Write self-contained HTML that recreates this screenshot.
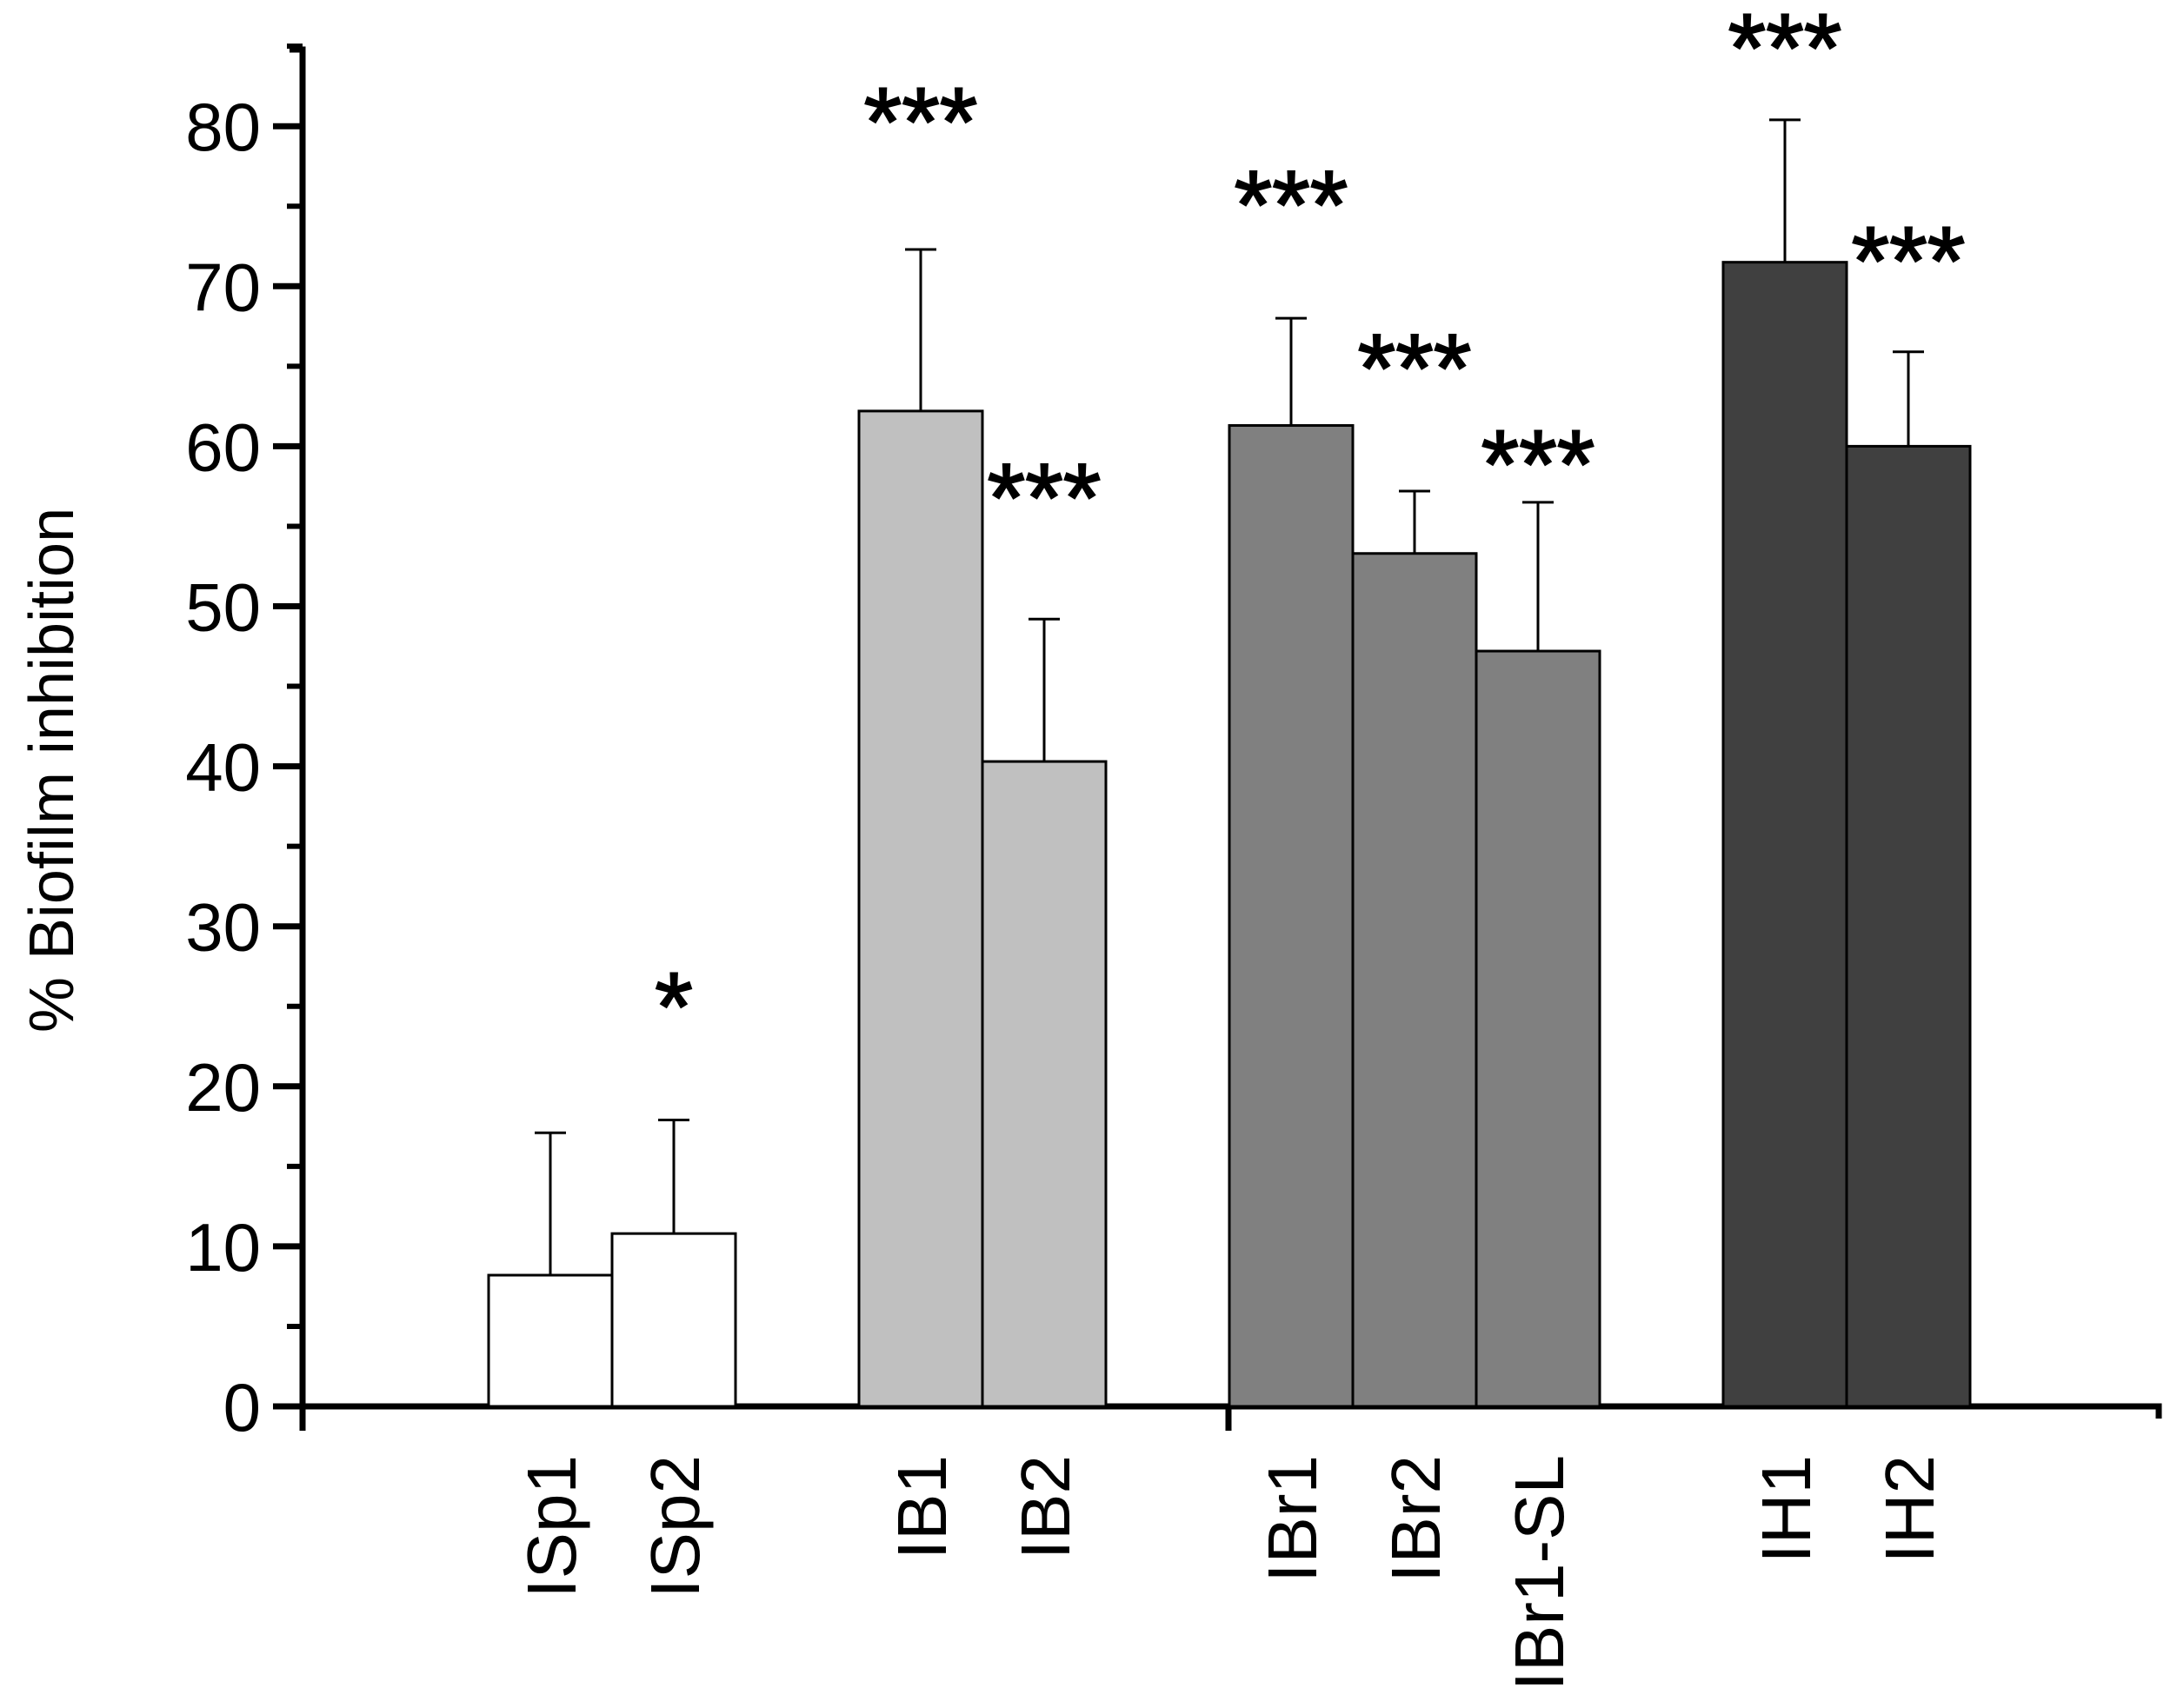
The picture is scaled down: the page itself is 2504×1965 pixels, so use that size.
<!DOCTYPE html>
<html><head><meta charset="utf-8"><style>
html,body{margin:0;padding:0;background:#fff}
svg{display:block}
text{font-family:"Liberation Sans",sans-serif;fill:#000}
</style></head><body>
<svg id="chart" width="2504" height="1965" viewBox="0 0 2504 1965" xmlns="http://www.w3.org/2000/svg">
<g id="axes"></g>
<g id="bars"></g>
<text transform="translate(84,886) rotate(-90)" text-anchor="middle" font-size="72">% Biofilm inhibition</text>
</svg>
<script>
const categories=["ISp1","ISp2","IB1","IB2","IBr1","IBr2","IBr1-SL","IH1","IH2"];
const values=[8.2,10.8,62.2,40.3,61.3,53.3,47.2,71.5,60.0];
const errorTops=[17.1,17.9,72.3,49.2,68.0,57.2,56.5,80.4,65.9];
const groups=[0,0,1,1,2,2,2,3,3];
const slots=[0,1,3,4,6,7,8,10,11];
const stars=["","*","***","***","***","***","***","***","***"];
const starValues=[0,25.7,81,57.5,75.8,65.6,59.6,85.6,72.3];
const yTicks=[0,10,20,30,40,50,60,70,80];
const colors=["#ffffff","#c0c0c0","#808080","#404040"];
const NS="http://www.w3.org/2000/svg";
const X0=348,Y0=1618,PU=18.41,SLOT=142,LEFT=562;
const y=v=>Y0-v*PU;
const xl=i=>LEFT+slots[i]*SLOT;
function mk(p,tag,a){const e=document.createElementNS(NS,tag);for(const k in a)e.setAttribute(k,a[k]);p.appendChild(e);return e;}
const ax=document.getElementById('axes');
const bars=document.getElementById('bars');
categories.forEach((c,i)=>{
  const v=values[i],x=xl(i);
  const r=mk(bars,'rect',{x:x,y:y(v),width:SLOT,height:v*PU,fill:colors[groups[i]],stroke:'#000','stroke-width':3});
  
  
  const cx=x+SLOT/2;
  const e=mk(bars,'path',{d:`M${cx},${y(v)}V${y(errorTops[i])}M${cx-18},${y(errorTops[i])}H${cx+18}`,stroke:'#000','stroke-width':3,fill:'none'});
  
  
  if(stars[i]){
    const s=mk(bars,'text',{x:cx,y:y(starValues[i])+52,'text-anchor':'middle','font-size':112,stroke:'#000','stroke-width':2});
    s.textContent=stars[i];
    
    
  }
  const t=mk(bars,'text',{transform:`translate(${cx+29},1674) rotate(-90)`,'text-anchor':'end','font-size':80});
  t.textContent=c;
  
  
});
const ya=mk(ax,'path',{d:`M${X0-15},57H${X0}V${Y0}`,stroke:'#000','stroke-width':7,fill:'none'});


const xa=mk(ax,'path',{d:`M${X0-20},${Y0}H2483V${Y0+14}M${X0},${Y0}V${Y0+28}M1413,${Y0}V${Y0+28}`,stroke:'#000','stroke-width':7,fill:'none'});


yTicks.forEach(v=>{
  const tk=mk(ax,'line',{x1:X0-34,x2:X0,y1:y(v),y2:y(v),stroke:'#000','stroke-width':7});
  
  
  const m=mk(ax,'line',{x1:X0-18,x2:X0,y1:y(v+5),y2:y(v+5),stroke:'#000','stroke-width':6});
  
  
  const t=mk(ax,'text',{x:X0-48,y:y(v)+28,'text-anchor':'end','font-size':78});
  t.textContent=v;
  
  
});
</script>
</body></html>
